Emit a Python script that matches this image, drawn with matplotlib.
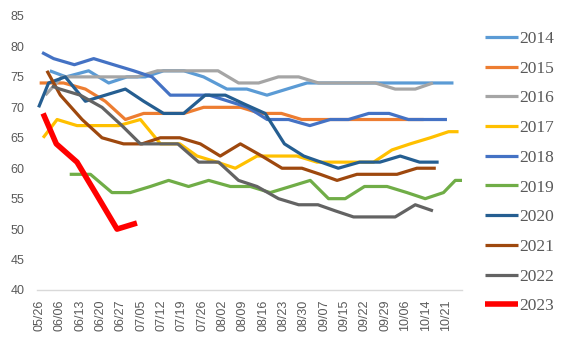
import matplotlib
matplotlib.use("Agg")
import matplotlib.pyplot as plt

# x labels (category axis), one per label slot
dates = ["05/26", "06/06", "06/13", "06/20", "06/27", "07/05", "07/12", "07/19",
         "07/26", "08/02", "08/09", "08/16", "08/23", "08/30", "09/07", "09/15",
         "09/22", "09/29", "10/06", "10/14", "10/21"]

# each year: positions along the label axis and values
x2014 = [0.5, 1.3, 2.41, 3.4, 4.3, 5.2, 6.1, 7.1, 8.07, 9.22, 10.2, 11.19, 12.17, 13.16,
         14.15, 15.1, 16.1, 17.1, 18.1, 19.1, 20.37]
y2014 = [76, 75, 76, 74, 75, 75, 76, 76, 75, 73, 73, 72, 73, 74,
         74, 74, 74, 74, 74, 74, 74]

x2015 = [0.0, 1.18, 2.25, 3.23, 4.22, 5.12, 6.1, 7.1, 8.07, 9.0, 9.9, 10.86, 11.9, 12.9,
         13.9, 14.9, 15.9, 16.9, 17.9, 18.9]
y2015 = [74, 74, 73, 71, 68, 69, 69, 69, 70, 70, 70, 69, 69, 68,
         68, 68, 68, 68, 68, 68]

x2016 = [0.28, 1.1, 2.1, 3.1, 4.1, 4.8, 5.8, 6.8, 7.8, 8.78, 9.79, 10.78, 11.75, 12.75,
         13.73, 14.65, 15.6, 16.52, 17.5, 18.49, 19.36]
y2016 = [72, 75, 75, 75, 75, 75, 76, 76, 76, 76, 74, 74, 75, 75,
         74, 74, 74, 74, 73, 73, 74]

x2017 = [0.17, 0.86, 1.84, 2.85, 3.89, 4.96, 5.95, 6.9, 7.75, 8.73, 9.63, 10.7, 11.67, 12.67,
         13.65, 14.6, 15.55, 16.44, 17.34, 18.24, 19.23, 20.13, 20.62]
y2017 = [65, 68, 67, 67, 67, 68, 64, 64, 62, 61, 60, 62, 62, 62,
         61, 61, 61, 61, 63, 64, 65, 66, 66]

x2018 = [0.12, 0.69, 1.71, 2.66, 3.64, 4.63, 5.53, 6.43, 7.4, 8.35, 9.3, 10.25, 11.2, 12.25,
         13.3, 14.3, 15.2, 16.2, 17.2, 18.15, 19.1, 20.05]
y2018 = [79, 78, 77, 78, 77, 76, 75, 72, 72, 72, 71, 70, 68, 68,
         67, 68, 68, 69, 69, 68, 68, 68]

x2019 = [1.48, 2.5, 3.56, 4.46, 5.45, 6.35, 7.33, 8.32, 9.39, 10.37, 11.35, 12.34, 13.32, 14.22,
         15.04, 15.99, 17.1, 18.08, 18.98, 19.88, 20.46, 20.79]
y2019 = [59, 59, 56, 56, 57, 58, 57, 58, 57, 57, 56, 57, 58, 55,
         55, 57, 57, 56, 55, 56, 58, 58]

x2020 = [-0.05, 0.44, 1.26, 2.25, 3.23, 4.22, 5.12, 6.1, 7.09, 8.15, 9.14, 10.1, 11.1, 12.05,
         13.0, 13.85, 14.7, 15.75, 16.75, 17.75, 18.7, 19.64]
y2020 = [70, 74, 75, 71, 72, 73, 71, 69, 69, 72, 72, 70.5, 69, 64,
         62, 61, 60, 61, 61, 62, 61, 61]

x2021 = [0.36, 1.02, 2.09, 3.07, 4.13, 5.04, 5.94, 6.9, 7.91, 8.89, 9.88, 10.94, 11.93, 12.91,
         13.81, 14.64, 15.62, 16.6, 17.59, 18.57, 19.5]
y2021 = [76, 72, 68, 65, 64, 64, 65, 65, 64, 62, 64, 62, 60, 60,
         59, 58, 59, 59, 59, 60, 60]

x2022 = [0.6, 1.0, 2.0, 3.07, 4.05, 4.96, 5.9, 6.8, 7.83, 8.81, 9.79, 10.7, 11.76, 12.75,
         13.7, 14.55, 15.45, 16.45, 17.5, 18.49, 19.36]
y2022 = [73.5, 73, 72, 70, 67, 64, 64, 64, 61, 61, 58, 57, 55, 54,
         54, 53, 52, 52, 52, 54, 53]

x2023 = [0.17, 0.82, 1.84, 2.83, 3.81, 4.79]
y2023 = [69, 64, 61, 55.5, 50, 51]

years = ["2014", "2015", "2016", "2017", "2018", "2019", "2020", "2021", "2022", "2023"]
xs = [x2014, x2015, x2016, x2017, x2018, x2019, x2020, x2021, x2022, x2023]
ys = [y2014, y2015, y2016, y2017, y2018, y2019, y2020, y2021, y2022, y2023]
colors = ["#5B9BD5", "#ED7D31", "#A5A5A5", "#FFC000", "#4472C4",
          "#70AD47", "#255E91", "#9E480E", "#636363", "#FF0000"]

fig = plt.figure(figsize=(5.61, 3.48), dpi=100)
ax = fig.add_axes([37/561, 58/348, 425/561, 274/348])

for yr, x, y, c in zip(years, xs, ys, colors):
    lw = 4.0 if yr == "2023" else 2.3
    ax.plot(x, y, color=c, lw=lw, label=yr,
            solid_joinstyle="round", solid_capstyle="butt")

ax.set_ylim(40, 85)
ax.set_yticks(range(40, 86, 5))
ax.set_xlim(-0.13, 20.79)
ax.set_xticks(range(len(dates)))
ax.set_xticklabels(dates, rotation=90)

for s in ["top", "right", "left"]:
    ax.spines[s].set_visible(False)
ax.spines["bottom"].set_color("#D9D9D9")
ax.spines["bottom"].set_linewidth(1)
ax.tick_params(axis="both", length=0, colors="#595959", labelsize=9)
ax.tick_params(axis="y", pad=9)
ax.tick_params(axis="x", pad=7)
for t in ax.get_xticklabels() + ax.get_yticklabels():
    t.set_family("Liberation Sans")

leg = fig.legend(loc="upper left", bbox_to_anchor=(478/561, 1 - 24/348),
                 frameon=False, handlelength=1.9, handletextpad=0.05,
                 labelspacing=0.78, borderaxespad=0,
                 prop={"family": "Liberation Serif", "size": 12.5})
for t in leg.get_texts():
    t.set_color("#595959")

fig.savefig("out.png", dpi=100)
